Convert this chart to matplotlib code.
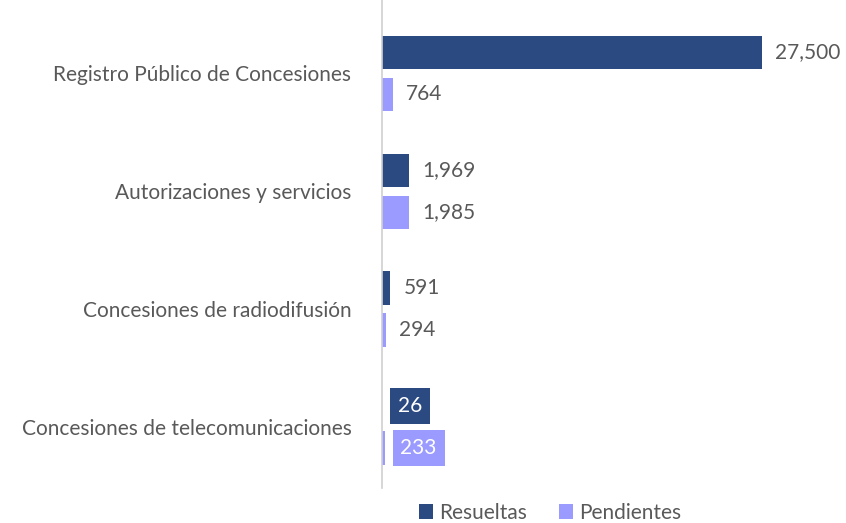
import matplotlib

matplotlib.use("Agg")
import matplotlib.pyplot as plt
import numpy as np

categories = [
    "Registro Público de Concesiones",
    "Autorizaciones y servicios",
    "Concesiones de radiodifusión",
    "Concesiones de telecomunicaciones",
]
resueltas = [27500, 1969, 591, 26]
pendientes = [764, 1985, 294, 233]
series_names = ["Resueltas", "Pendientes"]

DARK = "#2C4A82"
LIGHT = "#9A9AFF"
GRAY = "#595959"

plt.rcParams["font.family"] = ["Lato", "DejaVu Sans"]

fig = plt.figure(figsize=(8.46, 5.23), dpi=100)
ax = fig.add_axes([382 / 846, 35 / 523, 420 / 846, 488 / 523])

y = np.arange(len(categories))
h = 0.28
off = 0.178
bars_r = ax.barh(y - off, resueltas, height=h, color=DARK, label=series_names[0])
bars_p = ax.barh(y + off, pendientes, height=h, color=LIGHT, label=series_names[1])

ax.set_xlim(0, 27500 * 420 / 380)
ax.set_ylim(3.517, -0.619)
ax.set_yticks(y)
ax.set_yticklabels(categories, fontsize=15, color=GRAY)
ax.tick_params(axis="y", length=0, pad=22)
ax.set_xticks([])
for side in ["top", "right", "bottom"]:
    ax.spines[side].set_visible(False)
ax.spines["left"].set_color("#D0D0D0")
ax.spines["left"].set_linewidth(1.2)

# small values get a filled label box like the source chart
for bars, vals, col in [(bars_r, resueltas, DARK), (bars_p, pendientes, LIGHT)]:
    for b, v in zip(bars, vals):
        yc = b.get_y() + b.get_height() / 2
        if v < 250:
            ax.annotate(f"{v:,}", (v, yc), xytext=(11, 0), textcoords="offset points",
                        va="center", ha="left", fontsize=15, color="white",
                        bbox=dict(boxstyle="square,pad=0.38", fc=col, ec="none"))
        else:
            ax.annotate(f"{v:,}", (v, yc), xytext=(9.5, 0), textcoords="offset points",
                        va="center", ha="left", fontsize=15, color=GRAY)

fig.legend(loc="center", bbox_to_anchor=(550 / 846, 1 - 513 / 523), ncol=2,
           frameon=False, fontsize=15, labelcolor=GRAY, handlelength=0.7,
           handleheight=0.7, handletextpad=0.3, columnspacing=1.5)

fig.savefig("out.png", dpi=100)
